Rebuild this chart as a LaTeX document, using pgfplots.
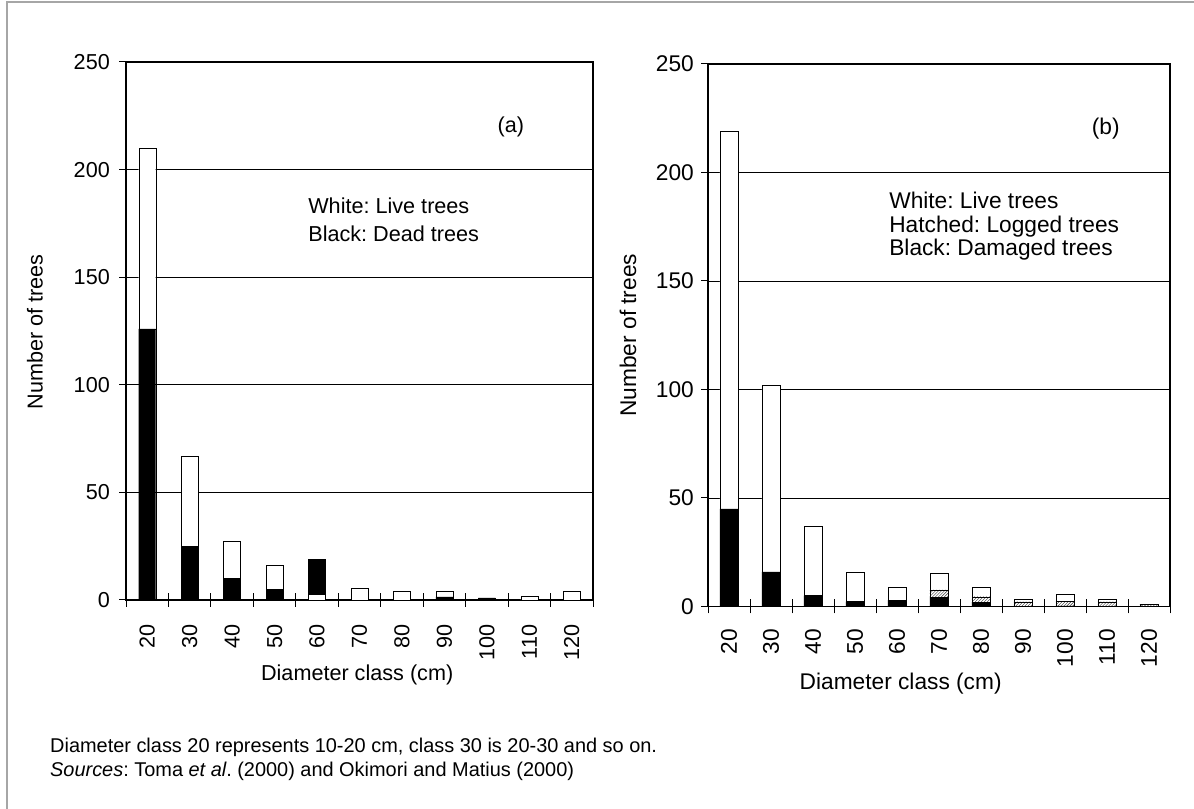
\documentclass[border=0pt]{standalone}
\usepackage{fontspec}
\setmainfont{Liberation Sans}
\usepackage{pgfplots}
\pgfplotsset{compat=1.18}
\usetikzlibrary{patterns}
\frenchspacing
\newcommand\fa{\fontsize{21.7}{28}\selectfont}
\newcommand\fb{\fontsize{22.8}{23.7}\selectfont}
\newcommand\fcap{\fontsize{20}{24}\selectfont}
\pgfplotsset{
 treeaxis/.style={
  scale only axis,
  xmin=-0.5, xmax=10.5, ymin=0, ymax=250,
  ytick={0,50,...,250},
  xtick={0,...,10},
  xticklabels={20,30,40,50,60,70,80,90,100,110,120},
  minor xtick={-0.5,0.5,...,10.5},
  ymajorgrids, grid style={black, line width=0.8bp},
  axis line style={black, line width=1.2bp},
  tick style={black, line width=1bp},
  major tick length=7bp, minor tick length=14bp,
  ytick align=outside, xtick align=center,
  ytick pos=left, xtick pos=bottom,
  major x tick style={draw=none},
  xticklabel style={rotate=90, anchor=east, inner sep=0pt},
  yticklabel style={anchor=east, inner sep=0pt},
  /pgf/number format/assume math mode=true,
  ybar stacked,
 }
}
\begin{document}
\begin{tikzpicture}
\path[use as bounding box] (0bp,0bp) rectangle (1194bp,809bp);
\draw[gray!70, line width=1.2bp] (7bp,0bp) -- (7bp,807bp) -- (1194bp,807bp);

\begin{axis}[treeaxis, at={(126bp,209bp)}, anchor=south west,
  width=467bp, height=538bp, bar width=0.4,
  tick label style={font=\fa},
  xlabel={Diameter class (cm)}, ylabel={Number of trees},
  label style={font=\fa},
  xlabel style={at={(axis description cs:0.495,-0.139)}, anchor=center},
  ylabel style={at={(axis description cs:-0.195,0.498)}, anchor=center},
  xticklabel shift=21bp, yticklabel shift=9bp]
\addplot[fill=black, draw=black] coordinates {(0,126) (1,25) (2,10) (3,5) (4,0) (5,0) (6,0) (7,1.5) (8,1) (9,0) (10,0)};
\addplot[fill=white, draw=black] coordinates {(0,84) (1,42) (2,17.5) (3,11) (4,2.5) (5,5.6) (6,3.9) (7,2.4) (8,0) (9,1.7) (10,3.9)};
\addplot[fill=black, draw=black] coordinates {(0,0) (1,0) (2,0) (3,0) (4,16.5) (5,0) (6,0) (7,0) (8,0) (9,0) (10,0)};
\node[font=\fa] at (rel axis cs:0.824,0.879) {(a)};
\node[font=\fa, anchor=north west, align=left, inner sep=0pt] at (rel axis cs:0.39,0.747) {White: Live trees\\Black: Dead trees};
\end{axis}

\begin{axis}[treeaxis, at={(708bp,202.5bp)}, anchor=south west,
  width=462bp, height=542.5bp, bar width=0.44,
  tick label style={font=\fb},
  xlabel={Diameter class (cm)}, ylabel={Number of trees},
  label style={font=\fb},
  xlabel style={at={(axis description cs:0.417,-0.143)}, anchor=center},
  ylabel style={at={(axis description cs:-0.173,0.50)}, anchor=center},
  xticklabel shift=19bp, yticklabel shift=7bp]
\addplot[fill=black, draw=black] coordinates {(0,45) (1,16) (2,5) (3,2.3) (4,2.9) (5,4.3) (6,2) (7,0) (8,0.3) (9,0) (10,0)};
\addplot[pattern=north east lines, pattern color=black!80, draw=black] coordinates {(0,0) (1,0) (2,0) (3,0) (4,0) (5,3.4) (6,2.5) (7,2.2) (8,2) (9,2.2) (10,1)};
\addplot[fill=white, draw=black] coordinates {(0,174) (1,86) (2,32) (3,13.3) (4,6) (5,7.6) (6,4.2) (7,1.3) (8,3.5) (9,1.3) (10,0)};
\node[font=\fb] at (rel axis cs:0.861,0.880) {(b)};
\node[font=\fb, anchor=north west, align=left, inner sep=0pt] at (rel axis cs:0.392,0.764) {White: Live trees\\Hatched: Logged trees\\Black: Damaged trees};
\end{axis}

\node[anchor=base west, font=\fcap, inner sep=0pt] at (50bp,56.5bp) {Diameter class 20 represents 10-20 cm, class 30 is 20-30 and so on.};
\node[anchor=base west, font=\fcap, inner sep=0pt] at (50bp,32.3bp) {\textit{Sources}: Toma \textit{et al}. (2000) and Okimori and Matius (2000)};
\end{tikzpicture}
\end{document}
